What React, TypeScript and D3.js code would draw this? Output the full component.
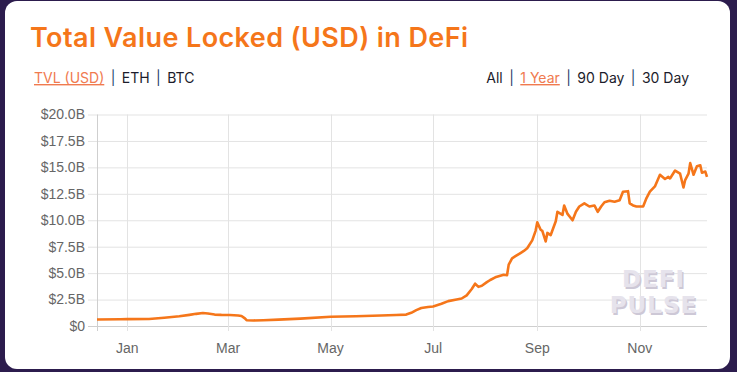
import { useEffect, useRef } from 'react';
import * as d3 from 'd3';

// TVL in billions of USD
const dates = [
  '2019-12-14', '2019-12-28', '2020-01-01', '2020-01-14', '2020-01-23', '2020-02-01', '2020-02-07',
  '2020-02-11', '2020-02-15', '2020-02-18', '2020-02-22', '2020-02-26', '2020-03-02', '2020-03-07',
  '2020-03-09', '2020-03-11', '2020-03-12', '2020-03-16', '2020-03-22', '2020-03-31', '2020-04-13',
  '2020-05-01', '2020-05-16', '2020-05-31', '2020-06-09', '2020-06-15', '2020-06-18', '2020-06-21',
  '2020-06-24', '2020-06-28', '2020-07-01', '2020-07-06', '2020-07-10', '2020-07-15', '2020-07-18',
  '2020-07-21', '2020-07-24', '2020-07-26', '2020-07-28', '2020-07-30', '2020-08-02', '2020-08-04',
  '2020-08-07', '2020-08-10', '2020-08-12', '2020-08-14', '2020-08-15', '2020-08-17', '2020-08-19',
  '2020-08-22', '2020-08-24', '2020-08-26', '2020-08-29', '2020-08-31', '2020-09-01', '2020-09-03',
  '2020-09-04', '2020-09-06', '2020-09-07', '2020-09-09', '2020-09-12', '2020-09-13', '2020-09-16',
  '2020-09-17', '2020-09-19', '2020-09-22', '2020-09-24', '2020-09-26', '2020-09-29', '2020-10-02',
  '2020-10-05', '2020-10-07', '2020-10-09', '2020-10-11', '2020-10-14', '2020-10-17', '2020-10-20',
  '2020-10-22', '2020-10-25', '2020-10-26', '2020-10-28', '2020-10-30', '2020-11-03', '2020-11-05',
  '2020-11-07', '2020-11-10', '2020-11-13', '2020-11-16', '2020-11-18', '2020-11-19', '2020-11-22',
  '2020-11-25', '2020-11-27', '2020-11-28', '2020-11-30', '2020-12-01', '2020-12-03', '2020-12-05',
  '2020-12-07', '2020-12-08', '2020-12-10', '2020-12-11',
];
const tvl = [
  0.62, 0.64, 0.65, 0.66, 0.78, 0.92, 1.05,
  1.15, 1.23, 1.18, 1.08, 1.05, 1.04, 1.0,
  0.95, 0.72, 0.55, 0.52, 0.55, 0.6, 0.7,
  0.88, 0.92, 1.0, 1.04, 1.08, 1.25, 1.5,
  1.7, 1.8, 1.85, 2.1, 2.35, 2.5, 2.6,
  2.9, 3.5, 4.0, 3.7, 3.8, 4.15, 4.35,
  4.6, 4.75, 4.85, 4.8, 5.8, 6.4, 6.6,
  6.9, 7.1, 7.35, 8.1, 9.0, 9.8, 9.1,
  9.0, 8.0, 8.8, 8.6, 9.9, 10.8, 10.5,
  11.4, 10.6, 10.0, 10.8, 11.3, 11.6, 11.3,
  11.4, 10.8, 11.3, 11.7, 11.85, 11.75, 11.9,
  12.7, 12.75, 11.6, 11.4, 11.3, 11.3, 12.1,
  12.7, 13.2, 14.3, 13.9, 14.1, 13.95, 14.7,
  14.4, 13.1, 13.8, 14.4, 15.4, 14.3, 15.1,
  15.2, 14.5, 14.6, 14.1,
];
const yTicks = [0, 2.5, 5, 7.5, 10, 12.5, 15, 17.5, 20];
const xTickDates = ['2020-01-01', '2020-03-01', '2020-05-01', '2020-07-01', '2020-09-01', '2020-11-01'];
const leftLinks = ['TVL (USD)', 'ETH', 'BTC'];
const rightLinks = ['All', '1 Year', '90 Day', '30 Day'];

const W = 737;
const H = 372;
const ORANGE = '#f5761a';
const LINK_ORANGE = '#f07a4f';

export default function App() {
  const svgRef = useRef<SVGSVGElement>(null);

  useEffect(() => {
    document.body.style.margin = '0';
    const svg = d3.select(svgRef.current);
    svg.selectAll('*').remove();

    const parse = d3.timeParse('%Y-%m-%d');
    const data = dates.map((d, i) => ({ date: parse(d) as Date, value: tvl[i] }));

    const plot = { left: 97, right: 707, top: 114.5, bottom: 326 };

    const x = d3.scaleTime()
      .domain([parse('2019-12-14') as Date, parse('2020-12-11') as Date])
      .range([plot.left, plot.right]);
    const y = d3.scaleLinear().domain([0, 20]).range([plot.bottom, plot.top]);

    // page background + card
    svg.append('rect').attr('width', W).attr('height', H).attr('fill', '#2c1c4d');
    svg.append('rect')
      .attr('x', 5).attr('y', 1).attr('width', 725).attr('height', 368)
      .attr('rx', 12).attr('fill', '#ffffff');

    // title
    svg.append('text')
      .attr('x', 30).attr('y', 47)
      .style('font-family', 'Inter, sans-serif')
      .style('font-size', '27px')
      .style('font-weight', 600)
      .style('letter-spacing', '0.4px')
      .attr('fill', ORANGE)
      .text('Total Value Locked (USD) in DeFi');

    // link rows
    const linkFont = (t: d3.Selection<SVGTextElement, unknown, null, undefined>) =>
      t.style('font-family', 'Inter, sans-serif')
        .style('font-size', '14px')
        .style('white-space', 'pre');

    const addLinks = (
      t: d3.Selection<SVGTextElement, unknown, null, undefined>,
      items: string[],
      active: number,
    ) => {
      items.forEach((l, i) => {
        if (i > 0) t.append('tspan').attr('dx', 2.5).attr('fill', '#1f3d6b').text(' | ');
        t.append('tspan')
          .attr('dx', i > 0 ? 2.5 : 0)
          .attr('fill', i === active ? LINK_ORANGE : '#1c1c2b')
          .attr('text-decoration', i === active ? 'underline' : null)
          .text(l);
      });
    };

    addLinks(linkFont(svg.append('text').attr('x', 34).attr('y', 83)), leftLinks, 0);
    addLinks(
      linkFont(svg.append('text').attr('x', 689).attr('y', 83).attr('text-anchor', 'end')),
      rightLinks,
      1,
    );

    const g = svg.append('g');

    // horizontal grid + y labels
    yTicks.forEach(t => {
      g.append('line')
        .attr('x1', plot.left - 9).attr('x2', plot.right)
        .attr('y1', y(t) + 0.5).attr('y2', y(t) + 0.5)
        .attr('stroke', t === 0 ? '#cfcfcf' : '#e3e3e3');
      g.append('text')
        .attr('x', 85).attr('y', y(t))
        .attr('dy', '0.35em')
        .attr('text-anchor', 'end')
        .style('font-family', 'Arial, "Liberation Sans", sans-serif')
        .style('font-size', '14px')
        .attr('fill', '#666')
        .text(t === 0 ? '$0' : `$${t.toFixed(1)}B`);
    });

    // vertical grid + x labels
    const fmt = d3.timeFormat('%b');
    g.append('line')
      .attr('x1', plot.left + 0.5).attr('x2', plot.left + 0.5)
      .attr('y1', plot.top).attr('y2', plot.bottom + 5)
      .attr('stroke', '#cfcfcf');
    xTickDates.forEach(s => {
      const d = parse(s) as Date;
      const px = Math.round(x(d)) + 0.5;
      g.append('line')
        .attr('x1', px).attr('x2', px)
        .attr('y1', plot.top).attr('y2', plot.bottom + 5)
        .attr('stroke', '#e3e3e3');
      g.append('text')
        .attr('x', x(d)).attr('y', 353)
        .attr('text-anchor', 'middle')
        .style('font-family', 'Arial, "Liberation Sans", sans-serif')
        .style('font-size', '14px')
        .attr('fill', '#666')
        .text(fmt(d));
    });

    // watermark
    const mark = svg.append('g')
      .style('font-family', '"DejaVu Sans", sans-serif')
      .style('font-weight', 'bold')
      .style('font-size', '23px')
      .style('letter-spacing', '1px')
      .attr('text-anchor', 'middle');
    [['DEFI', 287], ['PULSE', 313]].forEach(([t, yy]) => {
      mark.append('text').attr('x', 655).attr('y', +yy + 1.5).attr('fill', '#cdc8d6').text(t as string);
      mark.append('text').attr('x', 653.5).attr('y', +yy).attr('fill', '#e6e3ec').text(t as string);
    });

    // line
    const line = d3.line<{ date: Date; value: number }>()
      .x(d => x(d.date))
      .y(d => y(d.value))
      .curve(d3.curveLinear);

    g.append('path')
      .datum(data)
      .attr('fill', 'none')
      .attr('stroke', ORANGE)
      .attr('stroke-width', 2.6)
      .attr('stroke-linejoin', 'round')
      .attr('d', line);
  }, []);

  return (
    <svg
      ref={svgRef}
      width={W}
      height={H}
      style={{ position: 'absolute', left: 0, top: 0, display: 'block' }}
    />
  );
}
